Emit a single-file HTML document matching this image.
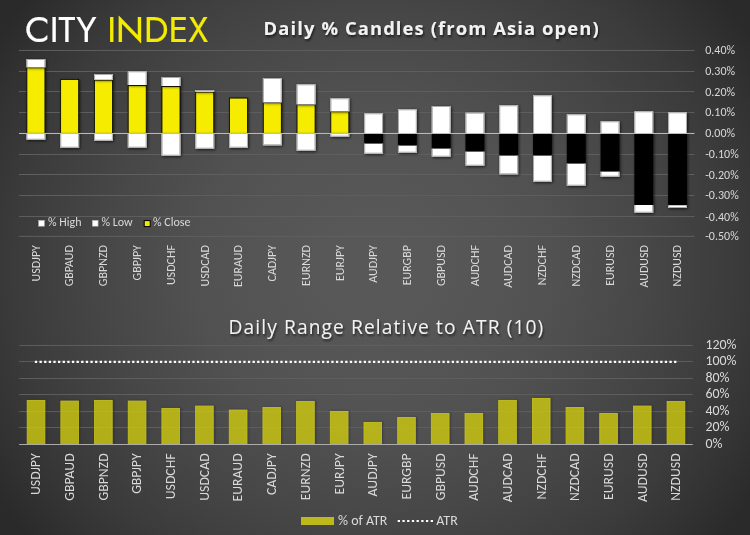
<!DOCTYPE html>
<html><head><meta charset="utf-8"><style>
html,body{margin:0;padding:0;}
body{width:750px;height:535px;overflow:hidden;background:#2a2a2a;}
svg{display:block;}
.ax{font-family:Carlito,"Liberation Sans",sans-serif;fill:#d9d9d9;}
</style></head><body>
<svg width="750" height="535" viewBox="0 0 750 535">
<defs>
<radialGradient id="bg" gradientUnits="userSpaceOnUse" cx="375" cy="267.5" r="452" fx="375" fy="267.5" gradientTransform="translate(375 267.5) scale(1 0.9305) translate(-375 -267.5)">
<stop offset="0.0" stop-color="rgb(88,88,88)"/>
<stop offset="0.1" stop-color="rgb(88,88,88)"/>
<stop offset="0.2" stop-color="rgb(86,86,86)"/>
<stop offset="0.3" stop-color="rgb(84,84,84)"/>
<stop offset="0.4" stop-color="rgb(81,81,81)"/>
<stop offset="0.5" stop-color="rgb(76,76,76)"/>
<stop offset="0.6" stop-color="rgb(71,71,71)"/>
<stop offset="0.7" stop-color="rgb(65,65,65)"/>
<stop offset="0.8" stop-color="rgb(59,59,59)"/>
<stop offset="0.9" stop-color="rgb(51,51,51)"/>
<stop offset="1.0" stop-color="rgb(42,42,42)"/>
</radialGradient>
<filter id="sh" x="-50%" y="-50%" width="200%" height="200%">
<feGaussianBlur in="SourceAlpha" stdDeviation="1.6"/>
<feOffset dx="0.6" dy="0.9" result="b"/>
<feComponentTransfer><feFuncA type="linear" slope="0.7"/></feComponentTransfer>
<feMerge><feMergeNode/><feMergeNode in="SourceGraphic"/></feMerge>
</filter>
<filter id="sh2" x="-50%" y="-50%" width="200%" height="200%">
<feGaussianBlur in="SourceAlpha" stdDeviation="1.3"/>
<feOffset dx="1.4" dy="0.3" result="b"/>
<feFlood flood-color="#1c1c30" flood-opacity="0.6"/>
<feComposite in2="b" operator="in" result="c"/>
<feComposite in="c" in2="SourceAlpha" operator="out" result="d"/>
<feMerge><feMergeNode in="d"/><feMergeNode in="SourceGraphic"/></feMerge>
</filter>
<clipPath id="c2clip"><rect x="0" y="300" width="750" height="144.5"/></clipPath>
<filter id="tsh" x="-10%" y="-30%" width="120%" height="160%">
<feGaussianBlur in="SourceAlpha" stdDeviation="1"/>
<feOffset dx="1" dy="1.5"/>
<feComponentTransfer><feFuncA type="linear" slope="0.6"/></feComponentTransfer>
<feMerge><feMergeNode/><feMergeNode in="SourceGraphic"/></feMerge>
</filter>
</defs>
<rect x="0" y="0" width="750" height="535" fill="url(#bg)"/>
<text x="25" y="42.3" font-family="Jost, Quicksand, 'Liberation Sans', sans-serif" font-weight="400" font-size="36" fill="#ffffff" stroke="#ffffff" stroke-width="0.2" stroke-linejoin="round">CITY <tspan fill="#f4ec00" stroke="#f4ec00">INDEX</tspan></text>
<text x="263.6" y="34.9" font-family="'Open Sans', 'Liberation Sans', sans-serif" font-weight="700" font-size="18.4" letter-spacing="1.1" fill="#f2f2f2" filter="url(#tsh)">Daily % Candles (from Asia open)</text>
<line x1="19.02" x2="694.42" y1="50.44" y2="50.44" stroke="#5f5f5f" stroke-width="1"/>
<line x1="19.02" x2="694.42" y1="71.47" y2="71.47" stroke="#5f5f5f" stroke-width="1"/>
<line x1="19.02" x2="694.42" y1="91.56" y2="91.56" stroke="#5f5f5f" stroke-width="1"/>
<line x1="19.02" x2="694.42" y1="112.48" y2="112.48" stroke="#5f5f5f" stroke-width="1"/>
<line x1="19.02" x2="694.42" y1="154.49" y2="154.49" stroke="#5f5f5f" stroke-width="1"/>
<line x1="19.02" x2="694.42" y1="174.50" y2="174.50" stroke="#5f5f5f" stroke-width="1"/>
<line x1="19.02" x2="694.42" y1="195.47" y2="195.47" stroke="#5f5f5f" stroke-width="1"/>
<line x1="19.02" x2="694.42" y1="216.56" y2="216.56" stroke="#5f5f5f" stroke-width="1"/>
<line x1="19.02" x2="694.42" y1="236.36" y2="236.36" stroke="#5f5f5f" stroke-width="1"/>
<text class="ax" x="705.2" y="54.44" font-size="12">0.40%</text>
<text class="ax" x="705.2" y="75.47" font-size="12">0.30%</text>
<text class="ax" x="705.2" y="95.56" font-size="12">0.20%</text>
<text class="ax" x="705.2" y="116.48" font-size="12">0.10%</text>
<text class="ax" x="705.2" y="137.46" font-size="12">0.00%</text>
<text class="ax" x="705.2" y="158.49" font-size="12">-0.10%</text>
<text class="ax" x="705.2" y="178.50" font-size="12">-0.20%</text>
<text class="ax" x="705.2" y="199.47" font-size="12">-0.30%</text>
<text class="ax" x="705.2" y="220.56" font-size="12">-0.40%</text>
<text class="ax" x="705.2" y="240.36" font-size="12">-0.50%</text>
<g filter="url(#sh)">
<rect x="26.91" y="67.70" width="18.00" height="65.76" fill="#f6ec00" stroke="#000" stroke-width="0.8"/>
<rect x="60.67" y="79.40" width="18.00" height="54.06" fill="#f6ec00" stroke="#000" stroke-width="0.8"/>
<rect x="94.45" y="80.10" width="18.00" height="53.36" fill="#f6ec00" stroke="#000" stroke-width="0.8"/>
<rect x="128.22" y="85.40" width="18.00" height="48.06" fill="#f6ec00" stroke="#000" stroke-width="0.8"/>
<rect x="161.99" y="86.40" width="18.00" height="47.06" fill="#f6ec00" stroke="#000" stroke-width="0.8"/>
<rect x="195.76" y="92.10" width="18.00" height="41.36" fill="#f6ec00" stroke="#000" stroke-width="0.8"/>
<rect x="229.53" y="98.10" width="18.00" height="35.36" fill="#f6ec00" stroke="#000" stroke-width="0.8"/>
<rect x="263.30" y="102.70" width="18.00" height="30.76" fill="#f6ec00" stroke="#000" stroke-width="0.8"/>
<rect x="297.06" y="104.70" width="18.00" height="28.76" fill="#f6ec00" stroke="#000" stroke-width="0.8"/>
<rect x="330.84" y="111.70" width="18.00" height="21.76" fill="#f6ec00" stroke="#000" stroke-width="0.8"/>
<rect x="364.21" y="133.46" width="18.8" height="10.24" fill="#000"/>
<rect x="397.98" y="133.46" width="18.8" height="12.24" fill="#000"/>
<rect x="431.75" y="133.46" width="18.8" height="15.24" fill="#000"/>
<rect x="465.52" y="133.46" width="18.8" height="18.24" fill="#000"/>
<rect x="499.29" y="133.46" width="18.8" height="22.24" fill="#000"/>
<rect x="533.06" y="133.46" width="18.8" height="22.24" fill="#000"/>
<rect x="566.83" y="133.46" width="18.8" height="30.24" fill="#000"/>
<rect x="600.60" y="133.46" width="18.8" height="38.24" fill="#000"/>
<rect x="634.37" y="133.46" width="18.8" height="71.54" fill="#000"/>
<rect x="668.14" y="133.46" width="18.8" height="71.84" fill="#000"/>
</g>
<g filter="url(#sh)">
<g><rect x="26.51" y="59.00" width="18.80" height="8.30" fill="#fff"/><path d="M27.01,67.30V59.50H44.81V67.30" fill="none" stroke="#a9a9a9" stroke-width="1"/></g>
<g><rect x="26.51" y="133.46" width="18.80" height="6.24" fill="#fff"/><path d="M27.01,133.46V139.20H44.81V133.46" fill="none" stroke="#a9a9a9" stroke-width="1"/></g>
<g><rect x="60.27" y="133.46" width="18.80" height="14.24" fill="#fff"/><path d="M60.77,133.46V147.20H78.58V133.46" fill="none" stroke="#a9a9a9" stroke-width="1"/></g>
<g><rect x="94.05" y="74.00" width="18.80" height="5.70" fill="#fff"/><path d="M94.55,79.70V74.50H112.34V79.70" fill="none" stroke="#a9a9a9" stroke-width="1"/></g>
<g><rect x="94.05" y="133.46" width="18.80" height="7.24" fill="#fff"/><path d="M94.55,133.46V140.20H112.34V133.46" fill="none" stroke="#a9a9a9" stroke-width="1"/></g>
<g><rect x="127.81" y="71.30" width="18.80" height="13.70" fill="#fff"/><path d="M128.31,85.00V71.80H146.12V85.00" fill="none" stroke="#a9a9a9" stroke-width="1"/></g>
<g><rect x="127.81" y="133.46" width="18.80" height="14.24" fill="#fff"/><path d="M128.31,133.46V147.20H146.12V133.46" fill="none" stroke="#a9a9a9" stroke-width="1"/></g>
<g><rect x="161.59" y="77.00" width="18.80" height="9.00" fill="#fff"/><path d="M162.09,86.00V77.50H179.89V86.00" fill="none" stroke="#a9a9a9" stroke-width="1"/></g>
<g><rect x="161.59" y="133.46" width="18.80" height="22.24" fill="#fff"/><path d="M162.09,133.46V155.20H179.89V133.46" fill="none" stroke="#a9a9a9" stroke-width="1"/></g>
<g><rect x="195.36" y="90.00" width="18.80" height="1.70" fill="#fff"/><path d="M195.86,91.70V90.50H213.66V91.70" fill="none" stroke="#a9a9a9" stroke-width="1"/></g>
<g><rect x="195.36" y="133.46" width="18.80" height="15.24" fill="#fff"/><path d="M195.86,133.46V148.20H213.66V133.46" fill="none" stroke="#a9a9a9" stroke-width="1"/></g>
<g><rect x="229.13" y="133.46" width="18.80" height="14.24" fill="#fff"/><path d="M229.63,133.46V147.20H247.43V133.46" fill="none" stroke="#a9a9a9" stroke-width="1"/></g>
<g><rect x="262.90" y="78.00" width="18.80" height="24.30" fill="#fff"/><path d="M263.40,102.30V78.50H281.20V102.30" fill="none" stroke="#a9a9a9" stroke-width="1"/></g>
<g><rect x="262.90" y="133.46" width="18.80" height="11.84" fill="#fff"/><path d="M263.40,133.46V144.80H281.20V133.46" fill="none" stroke="#a9a9a9" stroke-width="1"/></g>
<g><rect x="296.67" y="84.30" width="18.80" height="20.00" fill="#fff"/><path d="M297.17,104.30V84.80H314.97V104.30" fill="none" stroke="#a9a9a9" stroke-width="1"/></g>
<g><rect x="296.67" y="133.46" width="18.80" height="17.24" fill="#fff"/><path d="M297.17,133.46V150.20H314.97V133.46" fill="none" stroke="#a9a9a9" stroke-width="1"/></g>
<g><rect x="330.44" y="98.30" width="18.80" height="13.00" fill="#fff"/><path d="M330.94,111.30V98.80H348.74V111.30" fill="none" stroke="#a9a9a9" stroke-width="1"/></g>
<g><rect x="330.44" y="133.46" width="18.80" height="3.24" fill="#fff"/><path d="M330.94,133.46V136.20H348.74V133.46" fill="none" stroke="#a9a9a9" stroke-width="1"/></g>
<g><rect x="364.21" y="113.30" width="18.80" height="20.16" fill="#fff"/><path d="M364.71,133.46V113.80H382.51V133.46" fill="none" stroke="#a9a9a9" stroke-width="1"/></g>
<g><rect x="364.21" y="143.70" width="18.80" height="10.00" fill="#fff"/><path d="M364.71,143.70V153.20H382.51V143.70" fill="none" stroke="#a9a9a9" stroke-width="1"/></g>
<g><rect x="397.98" y="109.30" width="18.80" height="24.16" fill="#fff"/><path d="M398.48,133.46V109.80H416.28V133.46" fill="none" stroke="#a9a9a9" stroke-width="1"/></g>
<g><rect x="397.98" y="145.70" width="18.80" height="7.00" fill="#fff"/><path d="M398.48,145.70V152.20H416.28V145.70" fill="none" stroke="#a9a9a9" stroke-width="1"/></g>
<g><rect x="431.75" y="106.00" width="18.80" height="27.46" fill="#fff"/><path d="M432.25,133.46V106.50H450.05V133.46" fill="none" stroke="#a9a9a9" stroke-width="1"/></g>
<g><rect x="431.75" y="148.70" width="18.80" height="8.00" fill="#fff"/><path d="M432.25,148.70V156.20H450.05V148.70" fill="none" stroke="#a9a9a9" stroke-width="1"/></g>
<g><rect x="465.52" y="112.70" width="18.80" height="20.76" fill="#fff"/><path d="M466.02,133.46V113.20H483.82V133.46" fill="none" stroke="#a9a9a9" stroke-width="1"/></g>
<g><rect x="465.52" y="151.70" width="18.80" height="14.00" fill="#fff"/><path d="M466.02,151.70V165.20H483.82V151.70" fill="none" stroke="#a9a9a9" stroke-width="1"/></g>
<g><rect x="499.29" y="105.30" width="18.80" height="28.16" fill="#fff"/><path d="M499.79,133.46V105.80H517.59V133.46" fill="none" stroke="#a9a9a9" stroke-width="1"/></g>
<g><rect x="499.29" y="155.70" width="18.80" height="18.60" fill="#fff"/><path d="M499.79,155.70V173.80H517.59V155.70" fill="none" stroke="#a9a9a9" stroke-width="1"/></g>
<g><rect x="533.06" y="95.30" width="18.80" height="38.16" fill="#fff"/><path d="M533.56,133.46V95.80H551.36V133.46" fill="none" stroke="#a9a9a9" stroke-width="1"/></g>
<g><rect x="533.06" y="155.70" width="18.80" height="26.00" fill="#fff"/><path d="M533.56,155.70V181.20H551.36V155.70" fill="none" stroke="#a9a9a9" stroke-width="1"/></g>
<g><rect x="566.83" y="114.30" width="18.80" height="19.16" fill="#fff"/><path d="M567.33,133.46V114.80H585.12V133.46" fill="none" stroke="#a9a9a9" stroke-width="1"/></g>
<g><rect x="566.83" y="163.70" width="18.80" height="22.00" fill="#fff"/><path d="M567.33,163.70V185.20H585.12V163.70" fill="none" stroke="#a9a9a9" stroke-width="1"/></g>
<g><rect x="600.60" y="121.30" width="18.80" height="12.16" fill="#fff"/><path d="M601.10,133.46V121.80H618.89V133.46" fill="none" stroke="#a9a9a9" stroke-width="1"/></g>
<g><rect x="600.60" y="171.70" width="18.80" height="5.00" fill="#fff"/><path d="M601.10,171.70V176.20H618.89V171.70" fill="none" stroke="#a9a9a9" stroke-width="1"/></g>
<g><rect x="634.37" y="111.30" width="18.80" height="22.16" fill="#fff"/><path d="M634.87,133.46V111.80H652.66V133.46" fill="none" stroke="#a9a9a9" stroke-width="1"/></g>
<g><rect x="634.37" y="205.00" width="18.80" height="7.70" fill="#fff"/><path d="M634.87,205.00V212.20H652.66V205.00" fill="none" stroke="#a9a9a9" stroke-width="1"/></g>
<g><rect x="668.14" y="112.30" width="18.80" height="21.16" fill="#fff"/><path d="M668.64,133.46V112.80H686.44V133.46" fill="none" stroke="#a9a9a9" stroke-width="1"/></g>
<g><rect x="668.14" y="205.30" width="18.80" height="2.70" fill="#fff"/><path d="M668.64,205.30V207.50H686.44V205.30" fill="none" stroke="#a9a9a9" stroke-width="1"/></g>
</g>
<line x1="19.02" x2="694.42" y1="133.46" y2="133.46" stroke="#bfbfbf" stroke-width="1"/>
<rect x="38.6" y="220.3" width="5.8" height="5.9" fill="#fff" stroke="#aaa" stroke-width="0.6"/>
<text class="ax" x="48" y="226.3" font-size="12">% High</text>
<rect x="92.3" y="220.3" width="5.8" height="5.9" fill="#fff" stroke="#aaa" stroke-width="0.6"/>
<text class="ax" x="101.5" y="226.3" font-size="12">% Low</text>
<rect x="144.2" y="220.6" width="6" height="6" fill="#f5e800" stroke="#000" stroke-width="1"/>
<text class="ax" x="153" y="226.3" font-size="12">% Close</text>
<text class="ax" font-size="12" text-anchor="end" transform="translate(39.66,245.1) rotate(-90)">USDJPY</text>
<text class="ax" font-size="12" text-anchor="end" transform="translate(73.42,245.1) rotate(-90)">GBPAUD</text>
<text class="ax" font-size="12" text-anchor="end" transform="translate(107.20,245.1) rotate(-90)">GBPNZD</text>
<text class="ax" font-size="12" text-anchor="end" transform="translate(140.97,245.1) rotate(-90)">GBPJPY</text>
<text class="ax" font-size="12" text-anchor="end" transform="translate(174.74,245.1) rotate(-90)">USDCHF</text>
<text class="ax" font-size="12" text-anchor="end" transform="translate(208.51,245.1) rotate(-90)">USDCAD</text>
<text class="ax" font-size="12" text-anchor="end" transform="translate(242.28,245.1) rotate(-90)">EURAUD</text>
<text class="ax" font-size="12" text-anchor="end" transform="translate(276.05,245.1) rotate(-90)">CADJPY</text>
<text class="ax" font-size="12" text-anchor="end" transform="translate(309.81,245.1) rotate(-90)">EURNZD</text>
<text class="ax" font-size="12" text-anchor="end" transform="translate(343.59,245.1) rotate(-90)">EURJPY</text>
<text class="ax" font-size="12" text-anchor="end" transform="translate(377.36,245.1) rotate(-90)">AUDJPY</text>
<text class="ax" font-size="12" text-anchor="end" transform="translate(411.12,245.1) rotate(-90)">EURGBP</text>
<text class="ax" font-size="12" text-anchor="end" transform="translate(444.90,245.1) rotate(-90)">GBPUSD</text>
<text class="ax" font-size="12" text-anchor="end" transform="translate(478.67,245.1) rotate(-90)">AUDCHF</text>
<text class="ax" font-size="12" text-anchor="end" transform="translate(512.43,245.1) rotate(-90)">AUDCAD</text>
<text class="ax" font-size="12" text-anchor="end" transform="translate(546.21,245.1) rotate(-90)">NZDCHF</text>
<text class="ax" font-size="12" text-anchor="end" transform="translate(579.98,245.1) rotate(-90)">NZDCAD</text>
<text class="ax" font-size="12" text-anchor="end" transform="translate(613.75,245.1) rotate(-90)">EURUSD</text>
<text class="ax" font-size="12" text-anchor="end" transform="translate(647.51,245.1) rotate(-90)">AUDUSD</text>
<text class="ax" font-size="12" text-anchor="end" transform="translate(681.29,245.1) rotate(-90)">NZDUSD</text>
<text x="228.5" y="333.7" font-family="'Open Sans', 'Liberation Sans', sans-serif" font-weight="400" font-size="19.2" letter-spacing="1.1" fill="#f2f2f2" filter="url(#tsh)">Daily Range Relative to ATR (10)</text>
<line x1="19.16" x2="692.76" y1="345.46" y2="345.46" stroke="#5f5f5f" stroke-width="1"/>
<line x1="19.16" x2="692.76" y1="361.44" y2="361.44" stroke="#5f5f5f" stroke-width="1"/>
<line x1="19.16" x2="692.76" y1="378.49" y2="378.49" stroke="#5f5f5f" stroke-width="1"/>
<line x1="19.16" x2="692.76" y1="394.47" y2="394.47" stroke="#5f5f5f" stroke-width="1"/>
<line x1="19.16" x2="692.76" y1="411.60" y2="411.60" stroke="#5f5f5f" stroke-width="1"/>
<line x1="19.16" x2="692.76" y1="427.48" y2="427.48" stroke="#5f5f5f" stroke-width="1"/>
<text class="ax" x="705.5" y="349.16" font-size="13.9">120%</text>
<text class="ax" x="705.5" y="365.14" font-size="13.9">100%</text>
<text class="ax" x="705.5" y="382.19" font-size="13.9">80%</text>
<text class="ax" x="705.5" y="398.17" font-size="13.9">60%</text>
<text class="ax" x="705.5" y="415.30" font-size="13.9">40%</text>
<text class="ax" x="705.5" y="431.18" font-size="13.9">20%</text>
<text class="ax" x="705.5" y="448.20" font-size="13.9">0%</text>
<g clip-path="url(#c2clip)"><g filter="url(#sh2)">
<rect x="27.20" y="400.40" width="17.60" height="44.10" fill="#cdc90a" fill-opacity="0.8" stroke="#c8c31c" stroke-width="0.8"/>
<rect x="60.88" y="401.10" width="17.60" height="43.40" fill="#cdc90a" fill-opacity="0.8" stroke="#c8c31c" stroke-width="0.8"/>
<rect x="94.56" y="400.40" width="17.60" height="44.10" fill="#cdc90a" fill-opacity="0.8" stroke="#c8c31c" stroke-width="0.8"/>
<rect x="128.24" y="401.10" width="17.60" height="43.40" fill="#cdc90a" fill-opacity="0.8" stroke="#c8c31c" stroke-width="0.8"/>
<rect x="161.92" y="408.40" width="17.60" height="36.10" fill="#cdc90a" fill-opacity="0.8" stroke="#c8c31c" stroke-width="0.8"/>
<rect x="195.60" y="406.10" width="17.60" height="38.40" fill="#cdc90a" fill-opacity="0.8" stroke="#c8c31c" stroke-width="0.8"/>
<rect x="229.28" y="410.10" width="17.60" height="34.40" fill="#cdc90a" fill-opacity="0.8" stroke="#c8c31c" stroke-width="0.8"/>
<rect x="262.96" y="407.40" width="17.60" height="37.10" fill="#cdc90a" fill-opacity="0.8" stroke="#c8c31c" stroke-width="0.8"/>
<rect x="296.64" y="401.40" width="17.60" height="43.10" fill="#cdc90a" fill-opacity="0.8" stroke="#c8c31c" stroke-width="0.8"/>
<rect x="330.32" y="411.40" width="17.60" height="33.10" fill="#cdc90a" fill-opacity="0.8" stroke="#c8c31c" stroke-width="0.8"/>
<rect x="364.00" y="422.40" width="17.60" height="22.10" fill="#cdc90a" fill-opacity="0.8" stroke="#c8c31c" stroke-width="0.8"/>
<rect x="397.68" y="417.40" width="17.60" height="27.10" fill="#cdc90a" fill-opacity="0.8" stroke="#c8c31c" stroke-width="0.8"/>
<rect x="431.36" y="413.40" width="17.60" height="31.10" fill="#cdc90a" fill-opacity="0.8" stroke="#c8c31c" stroke-width="0.8"/>
<rect x="465.04" y="413.40" width="17.60" height="31.10" fill="#cdc90a" fill-opacity="0.8" stroke="#c8c31c" stroke-width="0.8"/>
<rect x="498.72" y="400.40" width="17.60" height="44.10" fill="#cdc90a" fill-opacity="0.8" stroke="#c8c31c" stroke-width="0.8"/>
<rect x="532.40" y="398.40" width="17.60" height="46.10" fill="#cdc90a" fill-opacity="0.8" stroke="#c8c31c" stroke-width="0.8"/>
<rect x="566.08" y="407.40" width="17.60" height="37.10" fill="#cdc90a" fill-opacity="0.8" stroke="#c8c31c" stroke-width="0.8"/>
<rect x="599.76" y="413.40" width="17.60" height="31.10" fill="#cdc90a" fill-opacity="0.8" stroke="#c8c31c" stroke-width="0.8"/>
<rect x="633.44" y="406.10" width="17.60" height="38.40" fill="#cdc90a" fill-opacity="0.8" stroke="#c8c31c" stroke-width="0.8"/>
<rect x="667.12" y="401.40" width="17.60" height="43.10" fill="#cdc90a" fill-opacity="0.8" stroke="#c8c31c" stroke-width="0.8"/>
</g></g>
<line x1="19.16" x2="692.76" y1="444.50" y2="444.50" stroke="#acacac" stroke-width="1.2"/>
<line x1="34.85" x2="676.5" y1="361.9" y2="361.9" stroke="#ffffff" stroke-width="2.3" stroke-dasharray="2.3 2.332"/>
<text class="ax" font-size="13.75" text-anchor="end" transform="translate(40.40,453.4) rotate(-90)">USDJPY</text>
<text class="ax" font-size="13.75" text-anchor="end" transform="translate(74.08,453.4) rotate(-90)">GBPAUD</text>
<text class="ax" font-size="13.75" text-anchor="end" transform="translate(107.76,453.4) rotate(-90)">GBPNZD</text>
<text class="ax" font-size="13.75" text-anchor="end" transform="translate(141.44,453.4) rotate(-90)">GBPJPY</text>
<text class="ax" font-size="13.75" text-anchor="end" transform="translate(175.12,453.4) rotate(-90)">USDCHF</text>
<text class="ax" font-size="13.75" text-anchor="end" transform="translate(208.80,453.4) rotate(-90)">USDCAD</text>
<text class="ax" font-size="13.75" text-anchor="end" transform="translate(242.48,453.4) rotate(-90)">EURAUD</text>
<text class="ax" font-size="13.75" text-anchor="end" transform="translate(276.16,453.4) rotate(-90)">CADJPY</text>
<text class="ax" font-size="13.75" text-anchor="end" transform="translate(309.84,453.4) rotate(-90)">EURNZD</text>
<text class="ax" font-size="13.75" text-anchor="end" transform="translate(343.52,453.4) rotate(-90)">EURJPY</text>
<text class="ax" font-size="13.75" text-anchor="end" transform="translate(377.20,453.4) rotate(-90)">AUDJPY</text>
<text class="ax" font-size="13.75" text-anchor="end" transform="translate(410.88,453.4) rotate(-90)">EURGBP</text>
<text class="ax" font-size="13.75" text-anchor="end" transform="translate(444.56,453.4) rotate(-90)">GBPUSD</text>
<text class="ax" font-size="13.75" text-anchor="end" transform="translate(478.24,453.4) rotate(-90)">AUDCHF</text>
<text class="ax" font-size="13.75" text-anchor="end" transform="translate(511.92,453.4) rotate(-90)">AUDCAD</text>
<text class="ax" font-size="13.75" text-anchor="end" transform="translate(545.60,453.4) rotate(-90)">NZDCHF</text>
<text class="ax" font-size="13.75" text-anchor="end" transform="translate(579.28,453.4) rotate(-90)">NZDCAD</text>
<text class="ax" font-size="13.75" text-anchor="end" transform="translate(612.96,453.4) rotate(-90)">EURUSD</text>
<text class="ax" font-size="13.75" text-anchor="end" transform="translate(646.64,453.4) rotate(-90)">AUDUSD</text>
<text class="ax" font-size="13.75" text-anchor="end" transform="translate(680.32,453.4) rotate(-90)">NZDUSD</text>
<rect x="301" y="517" width="33" height="8" fill="#bdb91c"/>
<text class="ax" x="338" y="524.7" font-size="14">% of ATR</text>
<line x1="397.7" x2="433.2" y1="521" y2="521" stroke="#fff" stroke-width="2.2" stroke-dasharray="2.3 2.41"/>
<text class="ax" x="436.3" y="524.7" font-size="14">ATR</text>
</svg>
</body></html>
